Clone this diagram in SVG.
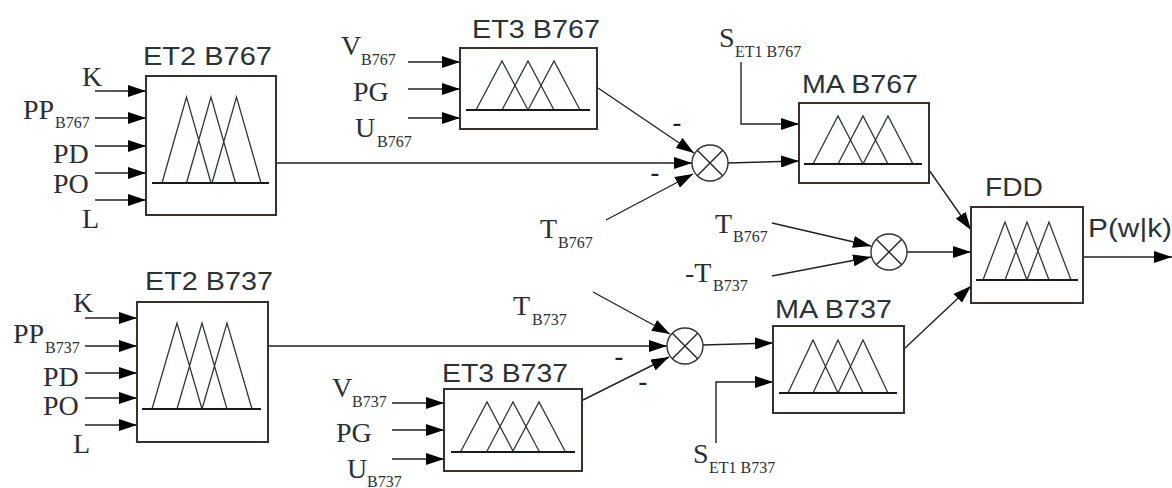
<svg xmlns="http://www.w3.org/2000/svg" width="1172" height="488" viewBox="0 0 1172 488">
<style>
.box{fill:#fff;stroke:#3a2f2a;stroke-width:2}
.mf{fill:none;stroke:#2a3a3a;stroke-width:1.3}
.base{stroke:#1a1a1a;stroke-width:1.8}
.ln{fill:none;stroke:#222;stroke-width:1.4}
.arr{marker-end:url(#ah)}
.jc{fill:#fff;stroke:#333;stroke-width:1.4}
.t{font-family:"Liberation Serif","Times New Roman",serif;font-size:28px;fill:#2a2f33}
.s{font-size:16px}
.h{font-family:"Liberation Sans",Arial,sans-serif;font-size:26px;fill:#2a3335}
.m{font-family:"Liberation Sans",Arial,sans-serif;font-size:28px;fill:#222;text-anchor:middle}
</style>
<defs>
<marker id="ah" markerUnits="userSpaceOnUse" markerWidth="18" markerHeight="12" refX="18" refY="6" orient="auto">
<path d="M0,0 L18,6 L0,12 Z" fill="#000"/>
</marker>
</defs>
<rect width="1172" height="488" fill="#fff"/>

<g id="connectors">
<!-- ET2 B767 inputs -->
<path class="ln arr" d="M95,91 H146"/>
<path class="ln arr" d="M95,118 H146"/>
<path class="ln arr" d="M95,146 H146"/>
<path class="ln arr" d="M95,173 H146"/>
<path class="ln arr" d="M95,200 H146"/>
<path class="ln arr" d="M276,163 H692"/>
<!-- ET3 B767 inputs -->
<path class="ln arr" d="M408,62 H460"/>
<path class="ln arr" d="M408,89 H460"/>
<path class="ln arr" d="M408,118 H460"/>
<path class="ln arr" d="M598,88 L694,153"/>
<path class="ln arr" d="M606,220 L693,174"/>
<path class="ln arr" d="M728,163 L799,161"/>
<path class="ln arr" d="M741,62 V124 H799"/>
<path class="ln arr" d="M929,170 L971,230"/>
<path class="ln arr" d="M772,223 L871,246"/>
<path class="ln arr" d="M772,276 L871,257"/>
<path class="ln arr" d="M907,252 H971"/>
<path class="ln arr" d="M1083,257 H1172"/>
<!-- ET2 B737 inputs -->
<path class="ln arr" d="M85,318 H137"/>
<path class="ln arr" d="M85,346 H137"/>
<path class="ln arr" d="M85,373 H137"/>
<path class="ln arr" d="M85,398 H137"/>
<path class="ln arr" d="M85,425 H137"/>
<path class="ln arr" d="M268,346 H667"/>
<path class="ln arr" d="M593,292 L670,334"/>
<path class="ln arr" d="M583,400 L669,357"/>
<!-- ET3 B737 inputs -->
<path class="ln arr" d="M392,403 H444"/>
<path class="ln arr" d="M392,430 H444"/>
<path class="ln arr" d="M392,459 H444"/>
<path class="ln arr" d="M703,345 L773,343"/>
<path class="ln arr" d="M716,443 V382 H773"/>
<path class="ln arr" d="M904,349 L971,286"/>
</g>

<g id="et2_b767">
<rect class="box" x="146" y="76" width="130" height="139"/>
<path class="mf" d="M162,183 L186.5,97 L211,183 M186.5,183 L211,97 L235.5,183 M212,183 L236.5,97 L261,183"/>
<path class="base" d="M152,183 H269"/>
<text class="h" x="143" y="65" textLength="129" lengthAdjust="spacingAndGlyphs">ET2 B767</text>
<text class="t" x="82" y="86">K</text>
<text class="t" x="23" y="119">PP<tspan class="s" x="55" y="128">B767</tspan></text>
<text class="t" x="53" y="163">PD</text>
<text class="t" x="53" y="193">PO</text>
<text class="t" x="82" y="228">L</text>
</g>

<g id="et3_b767">
<rect class="box" x="460" y="48" width="137" height="81"/>
<path class="mf" d="M476,110 L502,61 L528,110 M502,110 L528,61 L554,110 M528,110 L554,61 L580,110"/>
<path class="base" d="M466,110 H590"/>
<text class="h" x="472" y="38" textLength="128" lengthAdjust="spacingAndGlyphs">ET3 B767</text>
<text class="t" x="341" y="55">V<tspan class="s" x="361" y="65">B767</tspan></text>
<text class="t" x="353" y="101">PG</text>
<text class="t" x="355" y="137">U<tspan class="s" x="377" y="147">B767</tspan></text>
</g>

<g id="sum_b767">
<circle class="jc" cx="710" cy="163" r="18"/>
<path class="ln" d="M697.3,150.3 L722.7,175.7 M722.7,150.3 L697.3,175.7"/>
<text class="m" x="677" y="132">-</text>
<text class="m" x="655" y="182">-</text>
<text class="t" x="540" y="238">T<tspan class="s" x="558" y="248">B767</tspan></text>
</g>

<g id="ma_b767">
<rect class="box" x="799" y="103" width="130" height="80"/>
<path class="mf" d="M813,164 L838,116 L863,164 M838,164 L863,116 L888,164 M863,164 L888,116 L913,164"/>
<path class="base" d="M804,164 H922"/>
<text class="h" x="802" y="93" textLength="116" lengthAdjust="spacingAndGlyphs">MA B767</text>
<text class="t" x="719" y="47">S<tspan class="s" x="735" y="57">ET1 B767</tspan></text>
</g>

<g id="sum_t">
<circle class="jc" cx="889" cy="252" r="18"/>
<path class="ln" d="M876.3,239.3 L901.7,264.7 M901.7,239.3 L876.3,264.7"/>
<text class="t" x="715" y="233">T<tspan class="s" x="733" y="242">B767</tspan></text>
<text class="t" x="685" y="282">-T<tspan class="s" x="713" y="291">B737</tspan></text>
</g>

<g id="fdd">
<rect class="box" x="971" y="207" width="112" height="96"/>
<path class="mf" d="M983,280 L1005,222 L1027,280 M1005,280 L1027,222 L1049,280 M1027,280 L1049,222 L1071,280"/>
<path class="base" d="M976,280 H1078"/>
<text class="h" x="985" y="196" textLength="58" lengthAdjust="spacingAndGlyphs">FDD</text>
<text class="h" x="1088" y="237" textLength="84" lengthAdjust="spacingAndGlyphs">P(w|k)</text>
</g>

<g id="et2_b737">
<rect class="box" x="137" y="302" width="131" height="140"/>
<path class="mf" d="M152,409 L177,323 L202,409 M177,409 L202,323 L227,409 M202,409 L227,323 L252,409"/>
<path class="base" d="M142,409 H261"/>
<text class="h" x="145" y="290" textLength="128" lengthAdjust="spacingAndGlyphs">ET2 B737</text>
<text class="t" x="73" y="312">K</text>
<text class="t" x="13" y="343">PP<tspan class="s" x="45" y="353">B737</tspan></text>
<text class="t" x="43" y="386">PD</text>
<text class="t" x="43" y="415">PO</text>
<text class="t" x="73" y="453">L</text>
</g>

<g id="sum_b737">
<circle class="jc" cx="685" cy="346" r="18"/>
<path class="ln" d="M672.3,333.3 L697.7,358.7 M697.7,333.3 L672.3,358.7"/>
<text class="m" x="619" y="366">-</text>
<text class="m" x="643" y="391">-</text>
<text class="t" x="513" y="315">T<tspan class="s" x="532" y="325">B737</tspan></text>
</g>

<g id="et3_b737">
<rect class="box" x="444" y="389" width="138" height="82"/>
<path class="mf" d="M460.5,452 L487,402 L513.5,452 M486.5,452 L513,402 L539.5,452 M512.5,452 L539,402 L565.5,452"/>
<path class="base" d="M451,452 H575"/>
<text class="h" x="442" y="382" textLength="126" lengthAdjust="spacingAndGlyphs">ET3 B737</text>
<text class="t" x="332" y="397">V<tspan class="s" x="352" y="407">B737</tspan></text>
<text class="t" x="336" y="442">PG</text>
<text class="t" x="347" y="478">U<tspan class="s" x="367" y="487">B737</tspan></text>
</g>

<g id="ma_b737">
<rect class="box" x="773" y="326" width="131" height="87"/>
<path class="mf" d="M788,393 L813,340 L838,393 M813,393 L838,340 L863,393 M838,393 L863,340 L888,393"/>
<path class="base" d="M779,393 H897"/>
<text class="h" x="775" y="318" textLength="117" lengthAdjust="spacingAndGlyphs">MA B737</text>
<text class="t" x="693" y="463">S<tspan class="s" x="709" y="473">ET1 B737</tspan></text>
</g>
</svg>
